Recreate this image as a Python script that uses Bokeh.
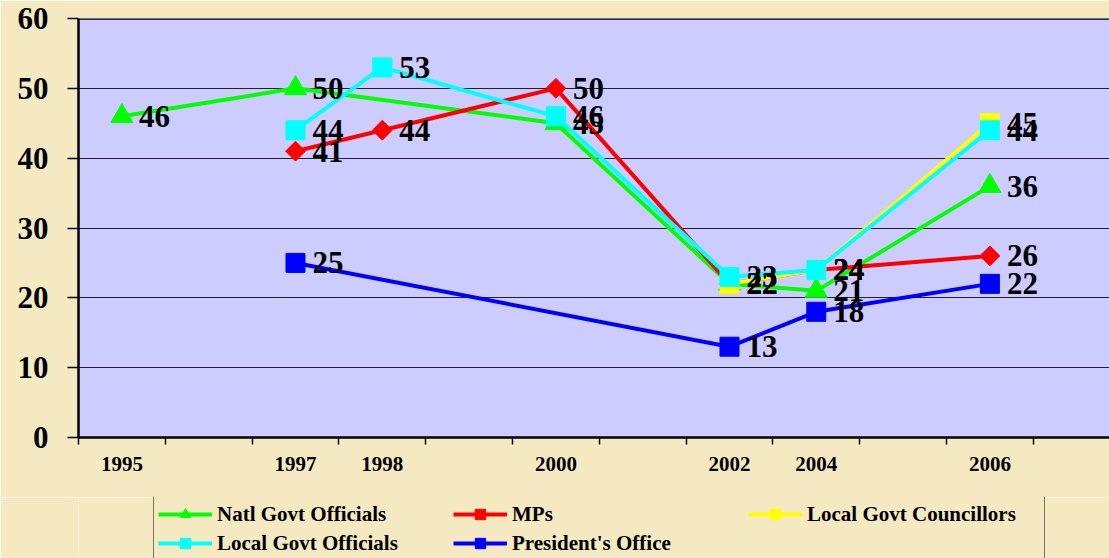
from bokeh.plotting import figure
from bokeh.layouts import column
from bokeh.models import Range1d, FixedTicker, Span, Legend, LegendItem, ColumnDataSource
from bokeh.core.properties import value
from bokeh.embed import file_html
from bokeh.resources import INLINE
import math

# ---- data ----
categories = ["1995", "", "1997", "1998", "", "2000", "", "2002", "2004", "", "2006", ""]
y_ticks = [0, 10, 20, 30, 40, 50, 60]

natl_years = ["1995", "1997", "2000", "2002", "2004", "2006"]
natl_values = [46, 50, 45, 22, 21, 36]

mps_years = ["1997", "1998", "2000", "2002", "2004", "2006"]
mps_values = [41, 44, 50, 22, 24, 26]

councillors_years = ["2002", "2004", "2006"]
councillors_values = [22, 24, 45]

local_years = ["1997", "1998", "2000", "2002", "2004", "2006"]
local_values = [44, 53, 46, 23, 24, 44]

president_years = ["1997", "2002", "2004", "2006"]
president_values = [25, 13, 18, 22]

series = [
    ("Natl Govt Officials", natl_years, natl_values, "#00FF00", "triangle", 22, 0.0),
    ("MPs", mps_years, mps_values, "#FF0000", "square", 14, math.pi / 4),
    ("Local Govt Councillors", councillors_years, councillors_values, "#FFFF00", "square", 19, 0.0),
    ("Local Govt Officials", local_years, local_values, "#00FFFF", "square", 19, 0.0),
    ("President's Office", president_years, president_values, "#0000FF", "square", 19, 0.0),
]

BG = "#F4E9C1"
PLOT_BG = "#CCCCFF"
SERIF = "Liberation Serif"

p = figure(width=1109, height=497, output_backend="svg", toolbar_location=None,
           x_range=Range1d(-0.5, 11.378), y_range=Range1d(0, 60),
           min_border_left=78, min_border_right=0, min_border_top=18, min_border_bottom=60)
p.background_fill_color = PLOT_BG
p.border_fill_color = BG
p.outline_line_color = None

# grid
p.xgrid.grid_line_color = None
p.ygrid.ticker = FixedTicker(ticks=y_ticks)
p.ygrid.grid_line_color = "#222222"
p.ygrid.grid_line_width = 1.2
p.add_layout(Span(location=60, dimension="width", line_color="black", line_width=2.5))

# y axis
ya = p.yaxis[0]
ya.ticker = FixedTicker(ticks=y_ticks)
ya.axis_line_width = 2.5
ya.axis_line_color = "black"
ya.major_tick_out = 11
ya.major_tick_in = 0
ya.major_tick_line_width = 1.5
ya.minor_tick_line_color = None
ya.major_label_standoff = 19
ya.major_label_text_font = SERIF
ya.major_label_text_font_style = "bold"
ya.major_label_text_font_size = "31px"
ya.major_label_text_color = "black"

# x axis: labels at category centres, tick marks between categories
xa = p.xaxis[0]
label_idx = [i for i, c in enumerate(categories) if c]
xa.ticker = FixedTicker(ticks=label_idx, minor_ticks=[i - 0.5 for i in range(len(categories) + 1)])
xa.major_label_overrides = {i: categories[i] for i in label_idx}
xa.axis_line_width = 2.5
xa.axis_line_color = "black"
xa.major_tick_line_color = None
xa.major_tick_out = 7
xa.major_tick_in = 0
xa.minor_tick_line_color = "black"
xa.minor_tick_line_width = 1.5
xa.minor_tick_out = 7
xa.minor_tick_in = 0
xa.major_label_standoff = 12
xa.major_label_text_font = SERIF
xa.major_label_text_font_style = "bold"
xa.major_label_text_font_size = "21px"
xa.major_label_text_color = "black"

# legend strip (separate figure below the chart); its glyphs reuse the series data,
# which lies outside this strip's ranges so only the legend shows
lg = figure(width=1109, height=61, output_backend="svg", toolbar_location=None,
            x_axis_type=None, y_axis_type=None,
            x_range=Range1d(-100, -99), y_range=Range1d(-100, -99),
            min_border_left=0, min_border_right=0, min_border_top=0, min_border_bottom=0)
lg.background_fill_color = BG
lg.border_fill_color = BG
lg.outline_line_color = None
lg.xgrid.grid_line_color = None
lg.ygrid.grid_line_color = None

items = []
label_x, label_y, label_t = [], [], []
for name, yrs, vals, color, marker, size, angle in series:
    xs = [categories.index(y) for y in yrs]
    src = ColumnDataSource(dict(x=xs, y=vals))
    p.line("x", "y", source=src, line_color=color, line_width=4)
    p.scatter("x", "y", source=src, marker=marker, size=size, angle=angle,
              fill_color=color, line_color=color)
    lr = lg.line("x", "y", source=src, line_color=color, line_width=4)
    sr = lg.scatter("x", "y", source=src, marker=marker, size=size, angle=angle,
                    fill_color=color, line_color=color)
    items.append(LegendItem(label=name, renderers=[lr, sr]))
    label_x += xs
    label_y += vals
    label_t += [str(v) for v in vals]

lsrc = ColumnDataSource(dict(x=label_x, y=label_y, t=label_t))
p.text("x", "y", text="t", source=lsrc, x_offset=17, text_baseline="middle",
       text_align="left", text_font=value(SERIF), text_font_style="bold",
       text_font_size="31px", text_color="black")

legend = Legend(items=items, orientation="horizontal", ncols=3,
                location=(75, -3), padding=4, spacing=3,
                glyph_width=54, glyph_height=26, label_standoff=5, label_width=233,
                label_text_font=SERIF, label_text_font_style="bold",
                label_text_font_size="21px", label_text_color="black",
                border_line_color="black", border_line_width=1.5,
                background_fill_color=BG, background_fill_alpha=1.0)
lg.add_layout(legend, "center")

layout = column(p, lg, spacing=0)
open("out.html", "w").write(file_html(layout, INLINE))
